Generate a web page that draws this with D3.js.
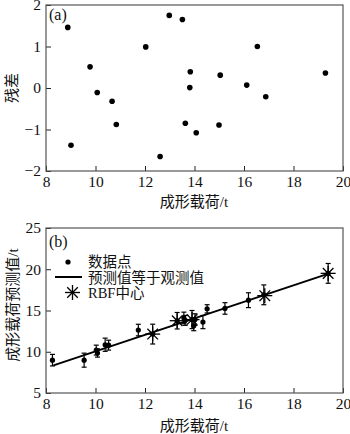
<!DOCTYPE html>
<html><head><meta charset="utf-8">
<script src="https://cdn.jsdelivr.net/npm/d3@7"></script>
<style>body{margin:0;background:#fff}svg{display:block}text{font-family:"Liberation Serif","Noto Sans CJK SC",serif;fill:#111}</style>
</head><body><svg id="c" width="350" height="434"></svg>
<script>
// Panel (a): residuals
const resX = [8.88, 9.01, 9.78, 10.07, 10.67, 10.84, 12.03, 12.61, 12.98, 13.51, 13.63, 13.83, 13.81, 14.07, 14.99, 15.04, 16.11, 16.54, 16.88, 19.29];
const resY = [1.46, -1.38, 0.51, -0.11, -0.32, -0.88, 0.99, -1.65, 1.75, 1.65, -0.85, 0.39, 0.01, -1.08, -0.89, 0.31, 0.07, 1.0, -0.21, 0.36];
// Panel (b): predicted vs observed
const obsX = [8.26, 9.54, 10.03, 10.08, 10.39, 10.53, 11.73, 12.31, 13.30, 13.57, 13.62, 13.90, 13.97, 14.02, 14.34, 14.51, 15.23, 16.18, 16.80, 19.40];
const predY = [8.98, 8.98, 10.2, 9.85, 10.85, 10.8, 12.63, 12.14, 13.76, 14.1, 13.8, 13.9, 13.15, 13.9, 13.6, 15.2, 15.25, 16.25, 16.9, 19.5];
const predErr = [0.7, 0.85, 0.6, 0.5, 0.8, 0.6, 0.7, 1.2, 1.0, 0.7, 0.6, 1.1, 0.6, 0.7, 0.8, 0.5, 0.7, 0.9, 1.2, 1.2];
const rbfX = [12.31, 13.30, 13.90, 16.84, 19.40];
const rbfY = [12.14, 13.76, 13.9, 16.8, 19.5];
const lineX = [8.3, 19.45];
const lineY = [8.35, 19.5];
const xTicks = [8, 10, 12, 14, 16, 18, 20];
const resTicks = [-2, -1, 0, 1, 2];
const predTicks = [5, 10, 15, 20, 25];
const xTitle = "成形载荷/t";
const resTitle = "残差";
const predTitle = "成形载荷预测值/t";
const legendLabels = ["数据点", "预测值等于观测值", "RBF中心"];

const svg = d3.select("#c");
const fmt = d => d < 0 ? "\u2212" + Math.abs(d) : String(d);

function panel(top, bottom, yDomain, yTicks) {
  const x = d3.scaleLinear().domain([8, 20]).range([46, 343]);
  const y = d3.scaleLinear().domain(yDomain).range([bottom, top]);
  const g = svg.append("g");
  g.append("g").attr("transform", `translate(0,${bottom})`)
    .call(d3.axisBottom(x).tickValues(xTicks).tickSizeInner(-5).tickSizeOuter(0).tickPadding(5).tickFormat(fmt))
    .call(s => { s.select(".domain").remove(); s.selectAll("line").attr("stroke", "#222");
      s.selectAll("text").attr("font-size", 15.5).attr("fill", "#111"); });
  g.append("g").attr("transform", `translate(46,0)`)
    .call(d3.axisLeft(y).tickValues(yTicks).tickSizeInner(-5).tickSizeOuter(0).tickPadding(5).tickFormat(fmt))
    .call(s => { s.select(".domain").remove(); s.selectAll("line").attr("stroke", "#222");
      s.selectAll("text").attr("font-size", 15.5).attr("fill", "#111"); });
  g.append("rect").attr("x", 46).attr("y", top).attr("width", 297).attr("height", bottom - top)
    .attr("fill", "none").attr("stroke", "#555").attr("stroke-width", 1.2);
  return {x, y, g};
}

// Panel a
const A = panel(5, 171, [-2, 2], resTicks);
A.g.selectAll("circle.r").data(resX).join("circle")
  .attr("cx", (d) => A.x(d)).attr("cy", (d, i) => A.y(resY[i])).attr("r", 2.8).attr("fill", "#000");
A.g.append("text").attr("x", 49).attr("y", 20).attr("font-size", 16).text("(a)");
svg.append("text").attr("x", 194).attr("y", 207).attr("text-anchor", "middle").attr("font-size", 15).text(xTitle);
svg.append("text").attr("transform", "translate(17,88) rotate(-90)").attr("text-anchor", "middle").attr("font-size", 15).text(resTitle);

// Panel b
const B = panel(228, 393, [5, 25], predTicks);
const line = d3.line().x(d => B.x(d[0])).y(d => B.y(d[1]));
B.g.append("path").datum(lineX.map((v, i) => [v, lineY[i]])).attr("d", line)
  .attr("fill", "none").attr("stroke", "#000").attr("stroke-width", 2);
const eb = B.g.selectAll("g.eb").data(obsX).join("g");
eb.append("line").attr("x1", d => B.x(d)).attr("x2", d => B.x(d))
  .attr("y1", (d, i) => B.y(predY[i] - predErr[i])).attr("y2", (d, i) => B.y(predY[i] + predErr[i]))
  .attr("stroke", "#000").attr("stroke-width", 1.2);
[-1, 1].forEach(sg => eb.append("line")
  .attr("x1", d => B.x(d) - 2.5).attr("x2", d => B.x(d) + 2.5)
  .attr("y1", (d, i) => B.y(predY[i] + sg * predErr[i])).attr("y2", (d, i) => B.y(predY[i] + sg * predErr[i]))
  .attr("stroke", "#000").attr("stroke-width", 1.2));
eb.append("circle").attr("cx", d => B.x(d)).attr("cy", (d, i) => B.y(predY[i])).attr("r", 2.6).attr("fill", "#000");

function star(sel, cx, cy, r) {
  const g = sel.append("g").attr("transform", `translate(${cx},${cy})`);
  [0, 45, 90, 135].forEach(a => {
    const t = a * Math.PI / 180;
    g.append("line").attr("x1", -r * Math.cos(t)).attr("y1", -r * Math.sin(t))
      .attr("x2", r * Math.cos(t)).attr("y2", r * Math.sin(t)).attr("stroke", "#000").attr("stroke-width", 1.3);
  });
}
rbfX.forEach((v, i) => star(B.g, B.x(v), B.y(rbfY[i]), 7.5));

B.g.append("text").attr("x", 49).attr("y", 247).attr("font-size", 16).text("(b)");
// legend
const lg = svg.append("g");
lg.append("circle").attr("cx", 68).attr("cy", 262).attr("r", 2.6).attr("fill", "#000");
lg.append("line").attr("x1", 55).attr("x2", 82).attr("y1", 277).attr("y2", 277).attr("stroke", "#000").attr("stroke-width", 2);
star(lg, 72.5, 292.5, 7.5);
legendLabels.forEach((t, i) => lg.append("text").attr("x", 88).attr("y", 262 + i * 15.3)
  .attr("dy", "0.36em").attr("font-size", 14.5).text(t));

svg.append("text").attr("x", 194).attr("y", 431).attr("text-anchor", "middle").attr("font-size", 15).text(xTitle);
svg.append("text").attr("transform", "translate(18,305) rotate(-90)").attr("text-anchor", "middle").attr("font-size", 15).text(predTitle);
</script></body></html>
